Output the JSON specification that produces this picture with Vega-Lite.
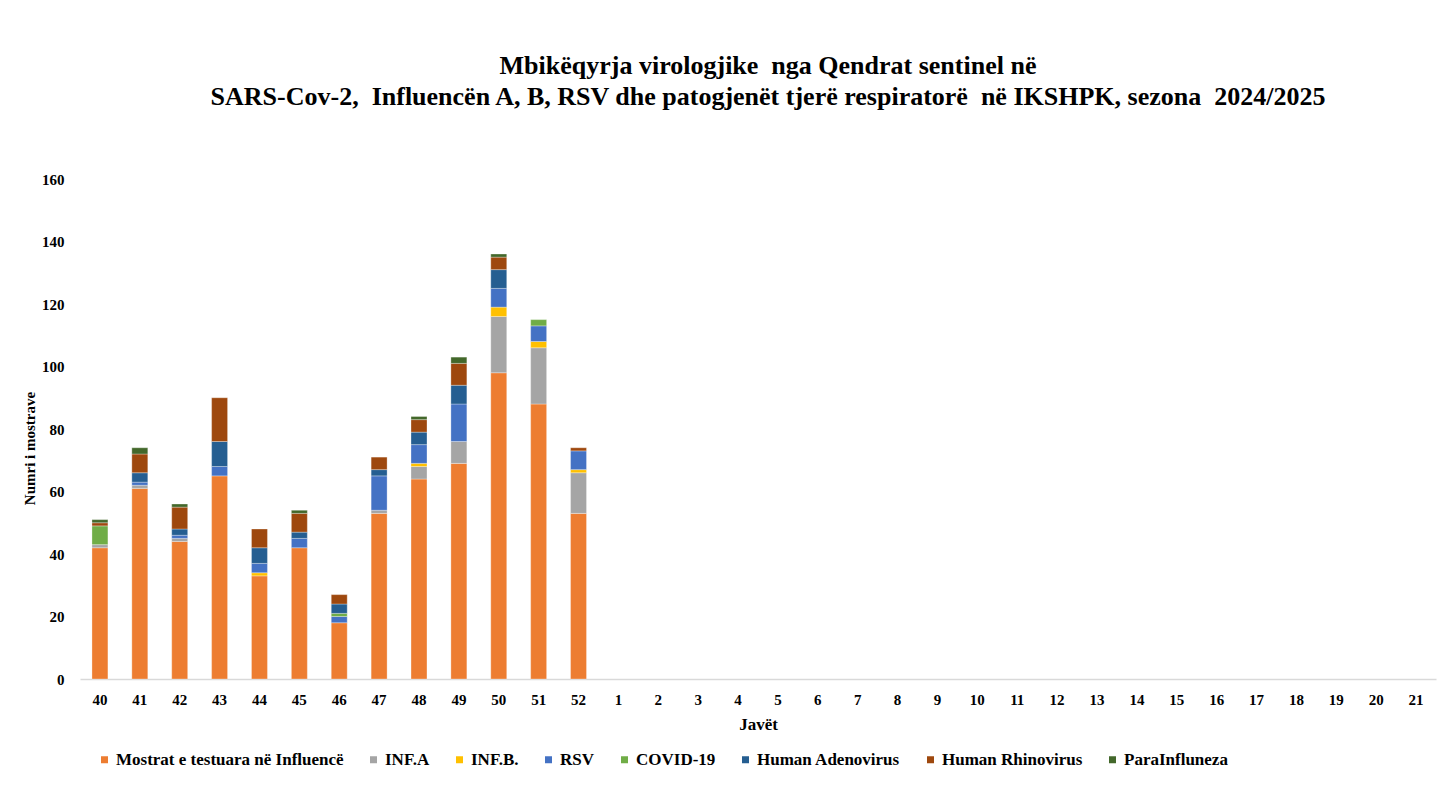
{
  "$schema": "https://vega.github.io/schema/vega-lite/v6.json",
  "width": 1356,
  "height": 500,
  "autosize": {"type": "none"},
  "padding": {"left": 80, "top": 179, "right": 17, "bottom": 112},
  "background": "white",
  "title": {
    "text": ["Mbikëqyrja virologjike\u00a0 nga Qendrat sentinel në", "SARS-Cov-2,\u00a0 Influencën A, B, RSV dhe patogjenët tjerë respiratorë\u00a0 në IKSHPK, sezona\u00a0 2024/2025"],
    "font": "Liberation Serif",
    "fontSize": 26,
    "fontWeight": "bold",
    "color": "#000000",
    "lineHeight": 31,
    "anchor": "middle",
    "dx": 10,
    "offset": 62
  },
  "transform": [
    {"calculate": "indexof(['Mostrat e testuara në Influencë','INF.A','INF.B.','RSV','COVID-19','Human Adenovirus','Human Rhinovirus','ParaInfluneza'], datum.series)", "as": "stackOrder"}
  ],
  "data": {
    "values": [
      {"week": "40", "series": "Mostrat e testuara në Influencë", "value": 42},
      {"week": "40", "series": "INF.A", "value": 1},
      {"week": "40", "series": "COVID-19", "value": 6},
      {"week": "40", "series": "Human Rhinovirus", "value": 1},
      {"week": "40", "series": "ParaInfluneza", "value": 1},
      {"week": "41", "series": "Mostrat e testuara në Influencë", "value": 61},
      {"week": "41", "series": "INF.A", "value": 1},
      {"week": "41", "series": "RSV", "value": 1},
      {"week": "41", "series": "Human Adenovirus", "value": 3},
      {"week": "41", "series": "Human Rhinovirus", "value": 6},
      {"week": "41", "series": "ParaInfluneza", "value": 2},
      {"week": "42", "series": "Mostrat e testuara në Influencë", "value": 44},
      {"week": "42", "series": "INF.A", "value": 1},
      {"week": "42", "series": "RSV", "value": 1},
      {"week": "42", "series": "Human Adenovirus", "value": 2},
      {"week": "42", "series": "Human Rhinovirus", "value": 7},
      {"week": "42", "series": "ParaInfluneza", "value": 1},
      {"week": "43", "series": "Mostrat e testuara në Influencë", "value": 65},
      {"week": "43", "series": "RSV", "value": 3},
      {"week": "43", "series": "Human Adenovirus", "value": 8},
      {"week": "43", "series": "Human Rhinovirus", "value": 14},
      {"week": "44", "series": "Mostrat e testuara në Influencë", "value": 33},
      {"week": "44", "series": "INF.B.", "value": 1},
      {"week": "44", "series": "RSV", "value": 3},
      {"week": "44", "series": "Human Adenovirus", "value": 5},
      {"week": "44", "series": "Human Rhinovirus", "value": 6},
      {"week": "45", "series": "Mostrat e testuara në Influencë", "value": 42},
      {"week": "45", "series": "RSV", "value": 3},
      {"week": "45", "series": "Human Adenovirus", "value": 2},
      {"week": "45", "series": "Human Rhinovirus", "value": 6},
      {"week": "45", "series": "ParaInfluneza", "value": 1},
      {"week": "46", "series": "Mostrat e testuara në Influencë", "value": 18},
      {"week": "46", "series": "RSV", "value": 2},
      {"week": "46", "series": "COVID-19", "value": 1},
      {"week": "46", "series": "Human Adenovirus", "value": 3},
      {"week": "46", "series": "Human Rhinovirus", "value": 3},
      {"week": "47", "series": "Mostrat e testuara në Influencë", "value": 53},
      {"week": "47", "series": "INF.A", "value": 1},
      {"week": "47", "series": "RSV", "value": 11},
      {"week": "47", "series": "Human Adenovirus", "value": 2},
      {"week": "47", "series": "Human Rhinovirus", "value": 4},
      {"week": "48", "series": "Mostrat e testuara në Influencë", "value": 64},
      {"week": "48", "series": "INF.A", "value": 4},
      {"week": "48", "series": "INF.B.", "value": 1},
      {"week": "48", "series": "RSV", "value": 6},
      {"week": "48", "series": "Human Adenovirus", "value": 4},
      {"week": "48", "series": "Human Rhinovirus", "value": 4},
      {"week": "48", "series": "ParaInfluneza", "value": 1},
      {"week": "49", "series": "Mostrat e testuara në Influencë", "value": 69},
      {"week": "49", "series": "INF.A", "value": 7},
      {"week": "49", "series": "RSV", "value": 12},
      {"week": "49", "series": "Human Adenovirus", "value": 6},
      {"week": "49", "series": "Human Rhinovirus", "value": 7},
      {"week": "49", "series": "ParaInfluneza", "value": 2},
      {"week": "50", "series": "Mostrat e testuara në Influencë", "value": 98},
      {"week": "50", "series": "INF.A", "value": 18},
      {"week": "50", "series": "INF.B.", "value": 3},
      {"week": "50", "series": "RSV", "value": 6},
      {"week": "50", "series": "Human Adenovirus", "value": 6},
      {"week": "50", "series": "Human Rhinovirus", "value": 4},
      {"week": "50", "series": "ParaInfluneza", "value": 1},
      {"week": "51", "series": "Mostrat e testuara në Influencë", "value": 88},
      {"week": "51", "series": "INF.A", "value": 18},
      {"week": "51", "series": "INF.B.", "value": 2},
      {"week": "51", "series": "RSV", "value": 5},
      {"week": "51", "series": "COVID-19", "value": 2},
      {"week": "52", "series": "Mostrat e testuara në Influencë", "value": 53},
      {"week": "52", "series": "INF.A", "value": 13},
      {"week": "52", "series": "INF.B.", "value": 1},
      {"week": "52", "series": "RSV", "value": 6},
      {"week": "52", "series": "Human Rhinovirus", "value": 1}
    ]
  },
  "mark": {"type": "bar", "stroke": "#ffffff", "strokeOpacity": 0.5, "strokeWidth": 0.6},
  "encoding": {
    "x": {
      "field": "week",
      "type": "ordinal",
      "scale": {
        "domain": ["40","41","42","43","44","45","46","47","48","49","50","51","52","1","2","3","4","5","6","7","8","9","10","11","12","13","14","15","16","17","18","19","20","21"],
        "paddingInner": 0.6,
        "paddingOuter": 0.3
      },
      "axis": {
        "title": "Javët",
        "labelAngle": 0,
        "ticks": false,
        "domainColor": "#D9D9D9",
        "domainWidth": 1.5,
        "labelFont": "Liberation Serif",
        "labelFontSize": 15,
        "labelFontWeight": "bold",
        "labelColor": "#000000",
        "labelPadding": 13,
        "titleFont": "Liberation Serif",
        "titleFontSize": 17,
        "titleFontWeight": "bold",
        "titleColor": "#000000",
        "titlePadding": 9
      }
    },
    "y": {
      "field": "value",
      "type": "quantitative",
      "stack": "zero",
      "scale": {"domain": [0, 160]},
      "axis": {
        "title": "Numri i mostrave",
        "values": [0,20,40,60,80,100,120,140,160],
        "grid": false,
        "domain": false,
        "ticks": false,
        "labelFont": "Liberation Serif",
        "labelFontSize": 15,
        "labelFontWeight": "bold",
        "labelColor": "#000000",
        "labelPadding": 16,
        "titleFont": "Liberation Serif",
        "titleFontSize": 15,
        "titleFontWeight": "bold",
        "titleColor": "#000000",
        "titlePadding": 4,
        "titleY": 269
      }
    },
    "color": {
      "field": "series",
      "type": "nominal",
      "sort": ["Mostrat e testuara në Influencë","INF.A","INF.B.","RSV","COVID-19","Human Adenovirus","Human Rhinovirus","ParaInfluneza"],
      "scale": {
        "domain": ["Mostrat e testuara në Influencë","INF.A","INF.B.","RSV","COVID-19","Human Adenovirus","Human Rhinovirus","ParaInfluneza"],
        "range": ["#ED7D31","#A5A5A5","#FFC000","#4472C4","#70AD47","#255E91","#9E480E","#43682B"]
      },
      "legend": {
        "title": null,
        "orient": "none",
        "legendX": 16,
        "legendY": 572,
        "direction": "horizontal",
        "columns": 8,
        "symbolType": "square",
        "symbolSize": 49,
        "symbolStrokeWidth": 0,
        "labelFont": "Liberation Serif",
        "labelFontSize": 17,
        "labelFontWeight": "bold",
        "labelColor": "#000000",
        "labelOffset": 3,
        "columnPadding": 21,
        "labelLimit": 400
      }
    },
    "order": {"field": "stackOrder", "type": "quantitative", "sort": "ascending"}
  },
  "config": {
    "view": {"stroke": null}
  }
}
